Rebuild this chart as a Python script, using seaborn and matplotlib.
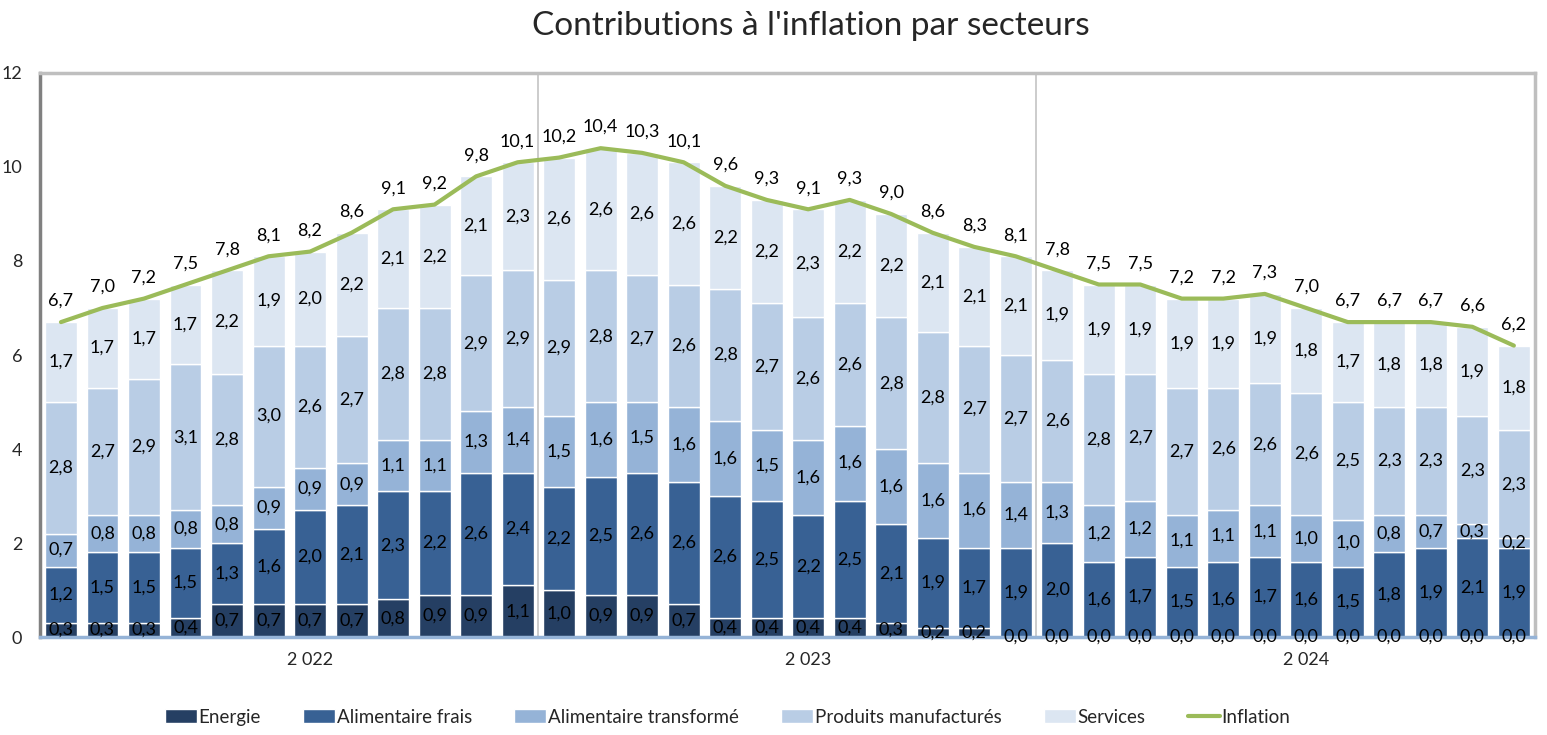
import numpy as np
import pandas as pd
import matplotlib
matplotlib.use("Agg")
import matplotlib.pyplot as plt
import seaborn as sns

# contributions (points de %), janv 2022 -> dec 2024
energie = [0.3, 0.3, 0.3, 0.4, 0.7, 0.7, 0.7, 0.7, 0.8, 0.9, 0.9, 1.1,
           1.0, 0.9, 0.9, 0.7, 0.4, 0.4, 0.4, 0.4, 0.3, 0.2, 0.2, 0.0,
           0.0, 0.0, 0.0, 0.0, 0.0, 0.0, 0.0, 0.0, 0.0, 0.0, 0.0, 0.0]
alim_frais = [1.2, 1.5, 1.5, 1.5, 1.3, 1.6, 2.0, 2.1, 2.3, 2.2, 2.6, 2.4,
              2.2, 2.5, 2.6, 2.6, 2.6, 2.5, 2.2, 2.5, 2.1, 1.9, 1.7, 1.9,
              2.0, 1.6, 1.7, 1.5, 1.6, 1.7, 1.6, 1.5, 1.8, 1.9, 2.1, 1.9]
alim_transf = [0.7, 0.8, 0.8, 0.8, 0.8, 0.9, 0.9, 0.9, 1.1, 1.1, 1.3, 1.4,
               1.5, 1.6, 1.5, 1.6, 1.6, 1.5, 1.6, 1.6, 1.6, 1.6, 1.6, 1.4,
               1.3, 1.2, 1.2, 1.1, 1.1, 1.1, 1.0, 1.0, 0.8, 0.7, 0.3, 0.2]
manuf = [2.8, 2.7, 2.9, 3.1, 2.8, 3.0, 2.6, 2.7, 2.8, 2.8, 2.9, 2.9,
         2.9, 2.8, 2.7, 2.6, 2.8, 2.7, 2.6, 2.6, 2.8, 2.8, 2.7, 2.7,
         2.6, 2.8, 2.7, 2.7, 2.6, 2.6, 2.6, 2.5, 2.3, 2.3, 2.3, 2.3]
services = [1.7, 1.7, 1.7, 1.7, 2.2, 1.9, 2.0, 2.2, 2.1, 2.2, 2.1, 2.3,
            2.6, 2.6, 2.6, 2.6, 2.2, 2.2, 2.3, 2.2, 2.2, 2.1, 2.1, 2.1,
            1.9, 1.9, 1.9, 1.9, 1.9, 1.9, 1.8, 1.7, 1.8, 1.8, 1.9, 1.8]
inflation = [6.7, 7.0, 7.2, 7.5, 7.8, 8.1, 8.2, 8.6, 9.1, 9.2, 9.8, 10.1,
             10.2, 10.4, 10.3, 10.1, 9.6, 9.3, 9.1, 9.3, 9.0, 8.6, 8.3, 8.1,
             7.8, 7.5, 7.5, 7.2, 7.2, 7.3, 7.0, 6.7, 6.7, 6.7, 6.6, 6.2]
years = ["2 022", "2 023", "2 024"]

series = [("Energie", energie, "#253F63"),
          ("Alimentaire frais", alim_frais, "#386194"),
          ("Alimentaire transformé", alim_transf, "#95B3D7"),
          ("Produits manufacturés", manuf, "#B9CDE5"),
          ("Services", services, "#DCE6F2")]

sns.set_style("white")
plt.rcParams['font.family'] = ['Lato', 'DejaVu Sans']

fig = plt.figure(figsize=(15.47, 7.35), dpi=100)
ax = fig.add_axes([0.026, 0.1333, 0.966, 0.7674])

n = len(inflation)
idx = np.arange(n)
bottom = np.zeros(n)
for name, vals, col in series:
    vals = np.array(vals)
    sns.barplot(x=idx, y=vals, bottom=bottom, color=col, width=0.77,
                errorbar=None, ax=ax, label=name, saturation=1)
    for i in range(n):
        ax.text(i, bottom[i] + vals[i] / 2, f"{vals[i]:.1f}".replace(".", ","),
                ha="center", va="center", fontsize=13, color="black")
    bottom = bottom + vals

sns.lineplot(x=idx, y=inflation, color="#9BBB59", linewidth=3, ax=ax,
             label="Inflation")
for i, v in enumerate(inflation):
    ax.text(i, v + 0.45, f"{v:.1f}".replace(".", ","), ha="center",
            va="center", fontsize=13, color="black")

ax.set_xlim(-0.5, n - 0.5)
ax.set_ylim(0, 12)
ax.set_yticks([0, 2, 4, 6, 8, 10, 12])
ax.set_yticklabels(["0", "2", "4", "6", "8", "10", "12"], fontsize=13)
ax.set_xticks(np.arange(-0.5, n, 6))
ax.set_xticklabels([])
ax.tick_params(axis="y", length=5, width=2, color="#808080", pad=8)
ax.tick_params(axis="x", length=5, width=1.5, color="#95B3D7", direction="out")
for k, y in enumerate(years):
    ax.text(6 + 12 * k, -0.48, y, ha="center", va="center", fontsize=13)

for x in [11.5, 23.5]:
    ax.axvline(x, color="#C8C8C8", linewidth=1.3, zorder=0.5)

ax.spines["left"].set_color("#808080")
ax.spines["left"].set_linewidth(2.5)
ax.spines["top"].set_color("#BFBFBF")
ax.spines["top"].set_linewidth(2.5)
ax.spines["right"].set_color("#BFBFBF")
ax.spines["right"].set_linewidth(2.5)
ax.spines["bottom"].set_color("#95B3D7")
ax.spines["bottom"].set_linewidth(2.5)
ax.set_xlabel("")
ax.set_ylabel("")

fig.suptitle("Contributions à l'inflation par secteurs", fontsize=24,
             x=0.524, y=0.985)

handles, labels = ax.get_legend_handles_labels()
order = [labels.index(s[0]) for s in series] + [labels.index("Inflation")]
ax.legend([handles[i] for i in order], [labels[i] for i in order],
          loc="center", bbox_to_anchor=(0.46, -0.142), ncol=6,
          frameon=False, fontsize=13.5, handlelength=1.7, handleheight=0.7,
          handletextpad=0.1, columnspacing=2.25)

fig.savefig("out.png", dpi=100)
